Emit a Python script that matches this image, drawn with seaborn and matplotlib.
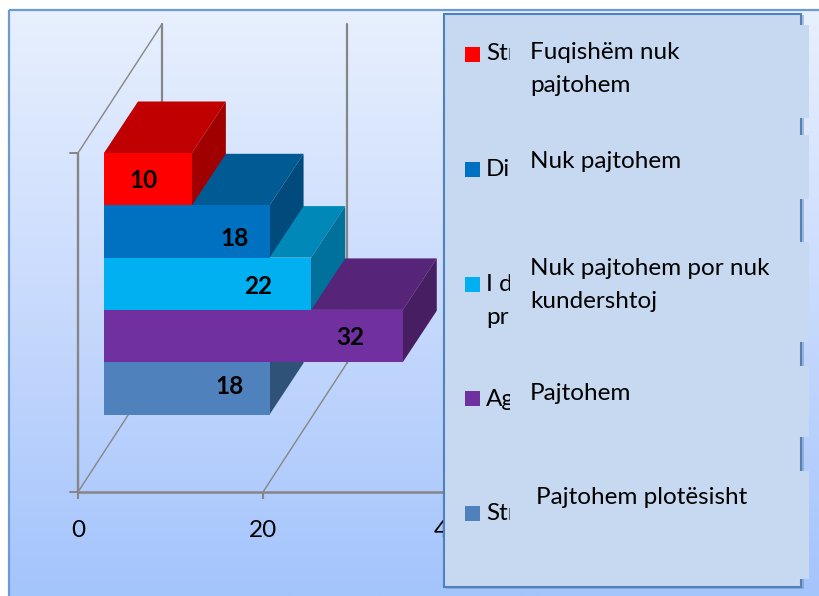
import numpy as np
import seaborn as sns
import pandas as pd
import matplotlib.pyplot as plt
from matplotlib.colors import LinearSegmentedColormap
from matplotlib.patches import Polygon, Rectangle

# Data, top bar first
categories = ['Strongly disagree', 'Disagree', 'I do not', 'Agree', 'Strongly agree']
bar_lengths = [9.5, 17.9, 22.4, 32.3, 17.9]
bar_labels = ['10', '18', '22', '32', '18']
x_ticks = [0, 20, 40]

front_colors = ['#ff0000', '#0070c0', '#00b0f0', '#7030a0', '#4f81bd']
top_colors = ['#c00000', '#005a94', '#0088b8', '#562478', '#3d6490']
side_colors = ['#a00000', '#004a7c', '#00719a', '#471e62', '#2f5278']

legend_stubs = ['Str', 'Dis', 'I d\npr', 'Ag', 'Str']
legend_texts = ['Fuqishëm nuk\npajtohem', 'Nuk pajtohem',
                'Nuk pajtohem por nuk\nkundershtoj', 'Pajtohem', 'Pajtohem plotësisht']

sns.set_theme(style='white')
plt.rcParams['font.family'] = ['Lato', 'DejaVu Sans']

W, H = 820, 596
fig = plt.figure(figsize=(W / 100, H / 100), dpi=100, facecolor='white')


def full_axes(zorder):
    a = fig.add_axes([0, 0, 1, 1], zorder=zorder)
    a.patch.set_visible(False)
    return a


# background with gradient and frame
ax_bg = full_axes(0)
cmap = LinearSegmentedColormap.from_list('bg', ['#e8f0fe', '#c8dafd', '#a4c4fc'])
ax_bg.imshow(np.linspace(0, 1, 256).reshape(-1, 1), cmap=cmap, aspect='auto',
             extent=(9, W + 5, H, 10))
ax_bg.add_patch(Rectangle((9, 10), W, H, fill=False, ec='#6c9bd2', lw=1.6))
ax_bg.set_xlim(0, W)
ax_bg.set_ylim(H, 0)
ax_bg.axis('off')

# walls, floor and value axis
PX_PER_UNIT = 9.25
grid_color = '#868686'
ax_wall = full_axes(1)
ax_wall.set_xlim(-78 / PX_PER_UNIT, (W - 78) / PX_PER_UNIT)
ax_wall.set_ylim(H, 0)
deep_x, deep_y = 84 / PX_PER_UNIT, 129
for t in x_ticks:
    ax_wall.plot([t, t + deep_x], [492, 492 - deep_y], color=grid_color, lw=1.0)
    ax_wall.plot([t + deep_x, t + deep_x], [492 - deep_y, 153 - deep_y], color=grid_color, lw=1.6)
ax_wall.plot([0, deep_x], [153, 153 - deep_y], color=grid_color, lw=1.0)
ax_wall.plot([0, 0], [153, 492], color=grid_color, lw=1.7, solid_capstyle='butt')
for y in [153, 492]:
    ax_wall.plot([-8 / PX_PER_UNIT, 0], [y, y], color=grid_color, lw=1.4)
for s in ['top', 'left', 'right']:
    ax_wall.spines[s].set_visible(False)
ax_wall.spines['bottom'].set_position(('data', 492))
ax_wall.spines['bottom'].set_bounds(0, 40)
ax_wall.spines['bottom'].set_color(grid_color)
ax_wall.spines['bottom'].set_linewidth(1.8)
ax_wall.set_yticks([])
ax_wall.set_xticks(x_ticks)
ax_wall.tick_params(axis='x', bottom=True, length=5, width=1.5, color=grid_color,
                    labelsize=17.5, labelcolor='black', pad=15)

# bars
BAND = 52.3
ax = full_axes(2)
df = pd.DataFrame({'cat': categories, 'val': bar_lengths})
sns.barplot(data=df, y='cat', x='val', hue='cat', palette=front_colors, orient='y',
            width=1, dodge=False, legend=False, linewidth=0, saturation=1, ax=ax)
ax.set_xlim(-104 / PX_PER_UNIT, (W - 104) / PX_PER_UNIT)
ax.set_ylim(-0.5 + (H - 153) / BAND, -0.5 - 153 / BAND)
ax.axis('off')

depth_x, depth_y = 34 / PX_PER_UNIT, -51.5 / BAND
bars = [p for p in ax.patches if p.get_width() > 0]
label_dx = [-48, -35, -53, -53, -40]
label_dy = [1, 7, 3, 1, -2]
for i, bar in enumerate(bars):
    z = 10 + (len(bars) - i) * 3
    x1 = bar.get_x() + bar.get_width()
    y0, y1 = bar.get_y(), bar.get_y() + bar.get_height()
    ax.add_patch(Polygon([(0, y0), (x1, y0), (x1 + depth_x, y0 + depth_y), (depth_x, y0 + depth_y)],
                         fc=top_colors[i], ec='none', zorder=z))
    ax.add_patch(Polygon([(x1, y0), (x1 + depth_x, y0 + depth_y), (x1 + depth_x, y1 + depth_y), (x1, y1)],
                         fc=side_colors[i], ec='none', zorder=z))
    bar.set_zorder(z + 1)
    ax.annotate(bar_labels[i], (x1, (y0 + y1) / 2), xytext=(label_dx[i], -label_dy[i]),
                textcoords='offset pixels', ha='center', va='center', fontsize=17.5,
                fontweight='bold', color='black', zorder=50)

# legend panel with the translated boxes on top of it
ax_leg = full_axes(3)
ax_leg.set_xlim(0, W)
ax_leg.set_ylim(H, 0)
ax_leg.axis('off')
panel_color = '#c6d9f1'
ax_leg.add_patch(Rectangle((446, 15), 358, 574, fc='#7f8fa6', ec='none', alpha=0.5))
ax_leg.add_patch(Rectangle((444.5, 13.5), 357, 573, fc=panel_color, ec='#4f81bd', lw=1.5))

swatch_y = [47, 162, 277, 391, 506]
stub_y = [54, 169, 285, 399, 514]
clip_box = Rectangle((480, 0), 30, H, transform=ax_leg.transData)
for i, name in enumerate(legend_stubs):
    ax_leg.add_patch(Rectangle((465, swatch_y[i]), 15, 15, fc=front_colors[i], ec='none'))
    top = stub_y[i] if '\n' not in name else stub_y[i] + 16
    stub = ax_leg.text(486, top, name, fontsize=17.5, ha='left', va='center', linespacing=1.65,
                       color='black')
    stub.set_clip_on(True)
    stub.set_clip_path(clip_box)

box_top = [25, 135, 242, 366, 471]
box_bottom = [118, 199, 342, 437, 579]
text_x = [530, 530, 530, 530, 536]
text_y = [69, 162, 285, 393, 498]
for i, txt in enumerate(legend_texts):
    ax_leg.add_patch(Rectangle((510, box_top[i]), 299, box_bottom[i] - box_top[i],
                               fc=panel_color, ec='none'))
    ax_leg.text(text_x[i], text_y[i], txt, fontsize=17.5, ha='left', va='center',
                linespacing=1.65, color='black')

fig.savefig('out.png', dpi=100)
